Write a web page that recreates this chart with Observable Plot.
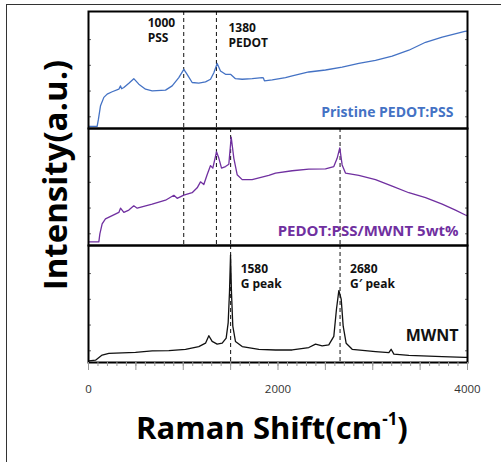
<!DOCTYPE html>
<html><head><meta charset="utf-8">
<script src="https://cdn.jsdelivr.net/npm/d3@7"></script>
<script src="https://cdn.jsdelivr.net/npm/@observablehq/plot@0.6"></script>
<style>
html,body{margin:0;padding:0;background:#fff;}
#wrap{position:relative;width:501px;height:462px;overflow:hidden;font-family:"Open Sans",sans-serif;background:#fff;}
#border{position:absolute;left:6px;top:4px;width:600px;height:600px;border-left:1px solid #333;border-top:1px solid #333;}
#chart{position:absolute;left:0;top:0;}
#ylab{position:absolute;left:54px;top:175px;transform:translate(-50%,-50%) rotate(-90deg);font-weight:700;font-size:33px;line-height:33px;white-space:nowrap;color:#000;}
#xlab{position:absolute;left:272px;top:406px;transform:translateX(-50%);font-weight:700;font-size:31px;line-height:31px;white-space:nowrap;color:#000;}
#xlab sup{font-size:17px;position:relative;top:-3px;}
</style></head>
<body>
<div id="wrap">
  <div id="border"></div>
  <div id="chart"></div>
  <div id="ylab">Intensity(a.u.)</div>
  <div id="xlab">Raman Shift(cm<sup>-1</sup>)</div>
</div>
<script>
const samples = ["Pristine PEDOT:PSS", "PEDOT:PSS/MWNT 5wt%", "MWNT"];

const pristineShift = [4, 91, 105, 127, 162, 197, 250, 320, 338, 350, 373, 426, 478, 531, 602, 672, 813, 883, 953, 1006, 1041, 1094, 1164, 1235, 1288, 1323, 1358, 1393, 1446, 1499, 1551, 1622, 1728, 1833, 1845, 1857, 1939, 2079, 2150, 2325, 2501, 2677, 2853, 3029, 3205, 3381, 3557, 3733, 3972, 3995];
const pristineIntensity = [1.9, 1.9, 8, 19.5, 26.6, 29.4, 31.4, 33.6, 36.4, 34, 35, 38.7, 42.6, 37.9, 33.6, 32.2, 32.8, 36.4, 43.5, 50.6, 46.3, 39.3, 38.7, 39.8, 42.1, 47.7, 55.6, 49.2, 46.3, 46.3, 42.6, 42.1, 42.6, 43.5, 43.3, 40.7, 41.5, 43.5, 44.9, 48.3, 50, 52.5, 55.6, 58.2, 61.9, 66.9, 73.7, 78.2, 83, 83.3];

const compositeShift = [4, 109, 120, 144, 179, 250, 320, 338, 373, 426, 478, 514, 672, 813, 901, 936, 1006, 1094, 1147, 1182, 1217, 1252, 1288, 1312, 1351, 1376, 1404, 1446, 1481, 1506, 1534, 1569, 1622, 1727, 1903, 1974, 2150, 2325, 2501, 2589, 2624, 2652, 2677, 2712, 2853, 3029, 3205, 3381, 3557, 3733, 3873, 3972, 3995];
const compositeIntensity = [3.1, 3.1, 10, 18.5, 22.7, 25.5, 28.3, 31.9, 28.3, 30.3, 33.9, 31.9, 35.3, 38.7, 42.9, 40.3, 43.1, 45.1, 49.3, 54.4, 52.1, 60.5, 68.3, 66.1, 80.1, 74.5, 66.1, 67.5, 69.5, 92.7, 74.5, 60.5, 56.3, 56.3, 59.9, 61.9, 63.9, 65.3, 65.5, 67.5, 74.5, 83.5, 68.9, 61.9, 59.9, 56.3, 50.7, 45.1, 40.9, 35.3, 30.3, 26.3, 25.5];

const mwntShift = [4, 74, 144, 215, 496, 672, 848, 1024, 1164, 1235, 1270, 1305, 1358, 1411, 1453, 1474, 1488, 1499, 1509, 1523, 1551, 1622, 1798, 1974, 2150, 2325, 2396, 2466, 2536, 2589, 2617, 2642, 2667, 2688, 2719, 2783, 3029, 3170, 3194, 3223, 3381, 3733, 3972, 3995];
const mwntIntensity = [1.4, 2, 6.4, 7.8, 8.7, 9.9, 10.1, 11.3, 13.6, 16.5, 22.9, 18, 15.7, 16.5, 20.9, 33.9, 60, 91.9, 60, 31, 18, 13.6, 11.3, 10.7, 10.7, 12.8, 15.7, 14.2, 15.1, 22.3, 45.5, 61.5, 54.2, 31, 16.5, 11.3, 9.3, 8.4, 11.3, 7.2, 6.1, 5, 4.3, 4.3];

// dashed reference lines (position) and the panels they cross
const markerShift = [1005, 1350, 1500, 2655];
const markerPanels = [[0, 1], [0, 1], [1, 2], [1, 2]];
const markerLabels = ["1000\nPSS", "1380\nPEDOT", "1580\nG peak", "2680\nG\u2032 peak"];
const markerLabelPanel = [0, 0, 2, 2];

const xTickLabels = [0, 2000, 4000];

const spectra = [
  ...pristineShift.map((s, i) => ({sample: samples[0], shift: s, intensity: pristineIntensity[i]})),
  ...compositeShift.map((s, i) => ({sample: samples[1], shift: s, intensity: compositeIntensity[i]})),
  ...mwntShift.map((s, i) => ({sample: samples[2], shift: s, intensity: mwntIntensity[i]}))
];
const markers = markerShift.flatMap((s, i) => markerPanels[i].map(p => ({sample: samples[p], shift: s})));
const annots = markerShift.map((s, i) => ({sample: samples[markerLabelPanel[i]], shift: s, label: markerLabels[i]}));

const font = '"Open Sans", sans-serif';
const annStyle = {x: "shift", fy: "sample", text: "label", frameAnchor: "top", lineAnchor: "top", textAnchor: "start", fontSize: 12, fontWeight: "bold", lineHeight: 1.3, fill: "#111"};

const chart = Plot.plot({
  width: 501,
  height: 400,
  marginLeft: 88,
  marginRight: 34,
  marginTop: 11,
  marginBottom: 38,
  style: {fontFamily: font, background: "transparent"},
  x: {domain: [0, 4000]},
  y: {domain: [0, 100], axis: null},
  fy: {domain: samples, axis: null, padding: 0},
  color: {domain: samples, range: ["#4472C4", "#7030A0", "#111111"]},
  marks: [
    Plot.ruleX(markers, {x: "shift", fy: "sample", stroke: "#111", strokeWidth: 1, strokeDasharray: "4,3"}),
    Plot.line(spectra, {x: "shift", y: "intensity", fy: "sample", stroke: "sample", strokeWidth: 1.3}),
    Plot.axisY({anchor: "left", ticks: [10, 32, 54, 76], tickSize: -3, fill: "none", stroke: "#666", label: null}),
    Plot.axisY({anchor: "right", ticks: [10, 32, 54, 76], tickSize: -3, fill: "none", stroke: "#666", label: null}),
    Plot.frame({stroke: "#000", strokeWidth: 2}),
    Plot.axisX({ticks: d3.range(0, 4001, 100), tickSize: 4, fill: "none", stroke: "#999", label: null}),
    Plot.axisX({ticks: d3.range(0, 4001, 500), tickSize: 8, fill: "none", stroke: "#999", label: null}),
    Plot.axisX({ticks: xTickLabels, tickSize: 0, tickPadding: 22, stroke: "none", fill: "#333", fontSize: 11.5, label: null, tickFormat: d => String(d)}),
    Plot.text(annots.slice(0, 1), {...annStyle, dx: -36, dy: 4}),
    Plot.text(annots.slice(1, 2), {...annStyle, dx: 12, dy: 9}),
    Plot.text(annots.slice(2, 4), {...annStyle, dx: 10, dy: 16}),
    Plot.text([samples[0]], {fy: d => d, text: d => d, frameAnchor: "bottom-right", textAnchor: "end", lineAnchor: "middle", dx: -14, dy: -16, fill: "#4472C4", fontSize: 14, fontWeight: "bold"}),
    Plot.text([samples[1]], {fy: d => d, text: d => d, frameAnchor: "bottom-right", textAnchor: "end", lineAnchor: "middle", dx: -9, dy: -14, fill: "#7030A0", fontSize: 15, fontWeight: "bold"}),
    Plot.text([samples[2]], {fy: d => d, text: d => d, frameAnchor: "bottom-right", textAnchor: "end", lineAnchor: "middle", dx: -9, dy: -27, fill: "#111", fontSize: 16, fontWeight: "bold"})
  ]
});
document.getElementById("chart").appendChild(chart);
</script>
</body></html>
